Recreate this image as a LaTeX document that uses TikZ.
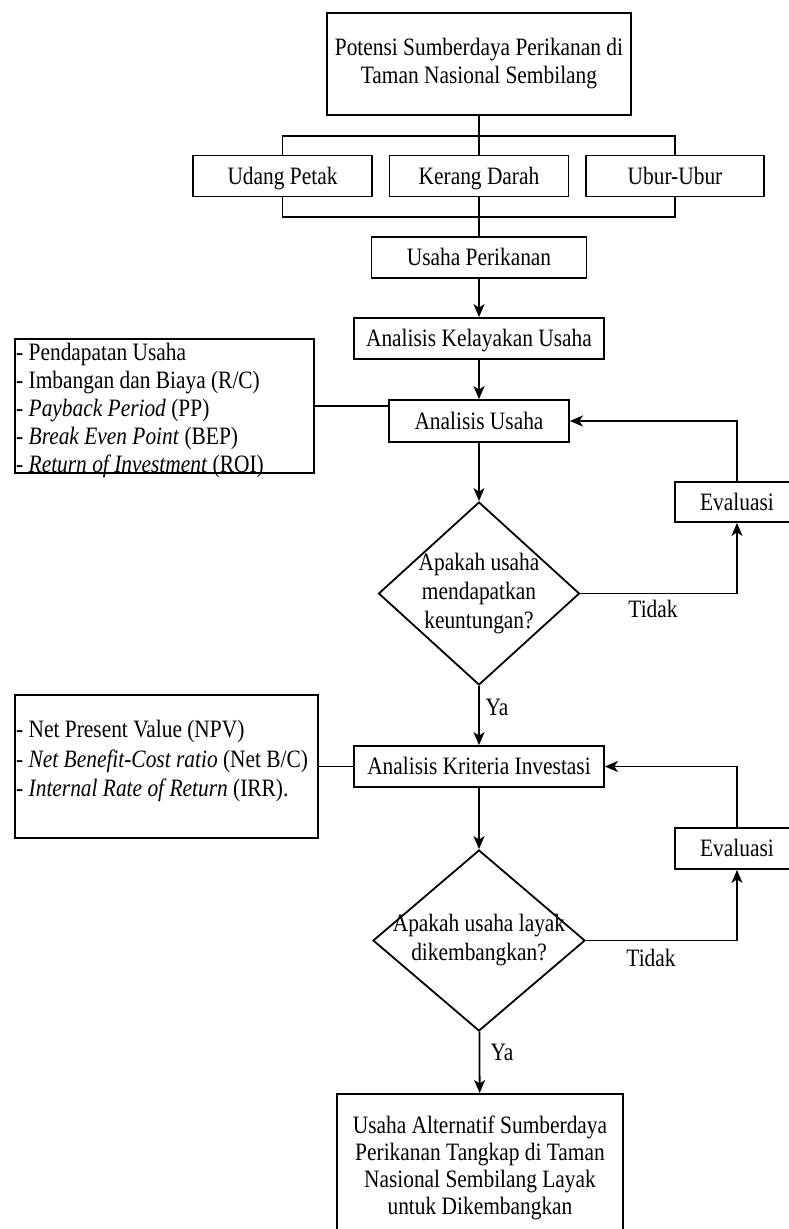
\documentclass[tikz,border=0pt]{standalone}
\usepackage{fontspec}
\setmainfont{Liberation Serif}[FakeStretch=0.856]
\usetikzlibrary{shapes.geometric,arrows.meta}
\begin{document}
\begin{tikzpicture}[x=1pt,y=-1pt,
  every node/.style={font=\fontsize{25}{28}\selectfont, inner sep=0pt},
  box/.style={draw, line width=1.8pt, align=center},
  one/.style={text height=18pt, text depth=2pt},
  listbox/.style={draw, line width=1.8pt},
  item/.style={anchor=base west},
  dia/.style={draw, diamond, line width=1.8pt},
  ln/.style={line width=1.8pt},
  arr/.style={line width=1.8pt, -{Stealth[length=13pt,width=11pt,inset=3.5pt]}}
  ]
\useasboundingbox (0,0) rectangle (789,1229);
\clip (0,0) rectangle (789,1229);

% top part
\node[box, minimum width=304pt, minimum height=102pt] (top) at (479,64)
  {Potensi Sumberdaya Perikanan di\\Taman Nasional Sembilang};
\node[box, one, minimum width=179pt, minimum height=41pt] (udang) at (282.5,176) {Udang Petak};
\node[box, one, minimum width=179pt, minimum height=41pt] (kerang) at (479,176) {Kerang Darah};
\node[box, one, minimum width=178pt, minimum height=41pt] (ubur) at (675,176) {Ubur-Ubur};
\node[box, one, minimum width=215pt, minimum height=41pt] (usaha) at (479,257.5) {Usaha Perikanan};
\node[box, one, minimum width=250pt, minimum height=41pt] (aku) at (479,338.5) {Analisis Kelayakan Usaha};
\node[box, one, minimum width=180pt, minimum height=42pt] (au) at (479,421) {Analisis Usaha};

\node[listbox, minimum width=299pt, minimum height=134pt] (list1) at (164.5,406) {};
\node[item] (l1a) at (16,360) {- Pendapatan Usaha};
\node[item] (l1b) at (16,388) {- Imbangan dan Biaya (R/C)};
\node[item] (l1c) at (16,416) {- \textit{Payback Period} (PP)};
\node[item] (l1d) at (16,444) {- \textit{Break Even Point} (BEP)};
\node[item] (l1e) at (16,472) {- \textit{Return of Investment} (ROI)};

% first decision
\node[dia, minimum width=201pt, minimum height=183pt] (d1) at (479,593.5) {};
\node[align=center, font=\fontsize{25}{29}\selectfont] (d1t) at (d1.center)
  {Apakah usaha\\mendapatkan\\keuntungan?};
\node[box, one, minimum width=124pt, minimum height=40pt] (ev1) at (737,502) {Evaluasi};
\node[one] (t1) at (653,609) {Tidak};
\node[one] (y1) at (497,707) {Ya};

% second part
\node[box, one, minimum width=250pt, minimum height=41pt] (aki) at (479,766.5) {Analisis Kriteria Investasi};
\node[listbox, minimum width=303pt, minimum height=143pt] (list2) at (166.5,766.5) {};
\node[item] (l2a) at (16,737) {- Net Present Value (NPV)};
\node[item] (l2b) at (16,767) {- \textit{Net Benefit-Cost ratio} (Net B/C)};
\node[item] (l2c) at (16,796) {- \textit{Internal Rate of Return} (IRR).};

\node[dia, minimum width=212pt, minimum height=181pt] (d2) at (479,940.5) {};
\node[align=center, font=\fontsize{25}{29}\selectfont] (d2t) at (d2.center)
  {Apakah usaha layak\\dikembangkan?};
\node[box, one, minimum width=124pt, minimum height=41pt] (ev2) at (737,848.5) {Evaluasi};
\node[one] (t2) at (651,958) {Tidak};
\node[one] (y2) at (502,1052) {Ya};
\node[box, anchor=north, minimum width=286pt, minimum height=148pt, font=\fontsize{25}{27}\selectfont] (final) at (480,1093)
  {Usaha Alternatif Sumberdaya\\Perikanan Tangkap di Taman\\Nasional Sembilang Layak\\untuk Dikembangkan};

% connectors
\coordinate (jt) at (479,136);
\coordinate (jb) at (479,217);
\draw[ln] (top.south) -- (kerang.north);
\draw[ln] (udang.north) |- (jt) -| (ubur.north);
\draw[ln] (udang.south) |- (jb) -| (ubur.south);
\draw[ln] (kerang.south) -- (usaha.north);
\draw[arr] (usaha) -- (aku);
\draw[arr] (aku) -- (au);
\draw[ln] (list1.east) -- (list1.east -| au.west);
\draw[arr] (au) -- (d1);
\draw[arr] (d1.east) -| (ev1.south);
\draw[arr] (ev1.north) |- (au.east);
\draw[arr] (d1) -- (aki);
\draw[ln] (list2.east) -- (aki.west);
\draw[arr] (aki) -- (d2);
\draw[arr] (d2.east) -| (ev2.south);
\draw[arr] (ev2.north) |- (aki.east);
\draw[arr] (d2) -- (final);
\end{tikzpicture}
\end{document}
